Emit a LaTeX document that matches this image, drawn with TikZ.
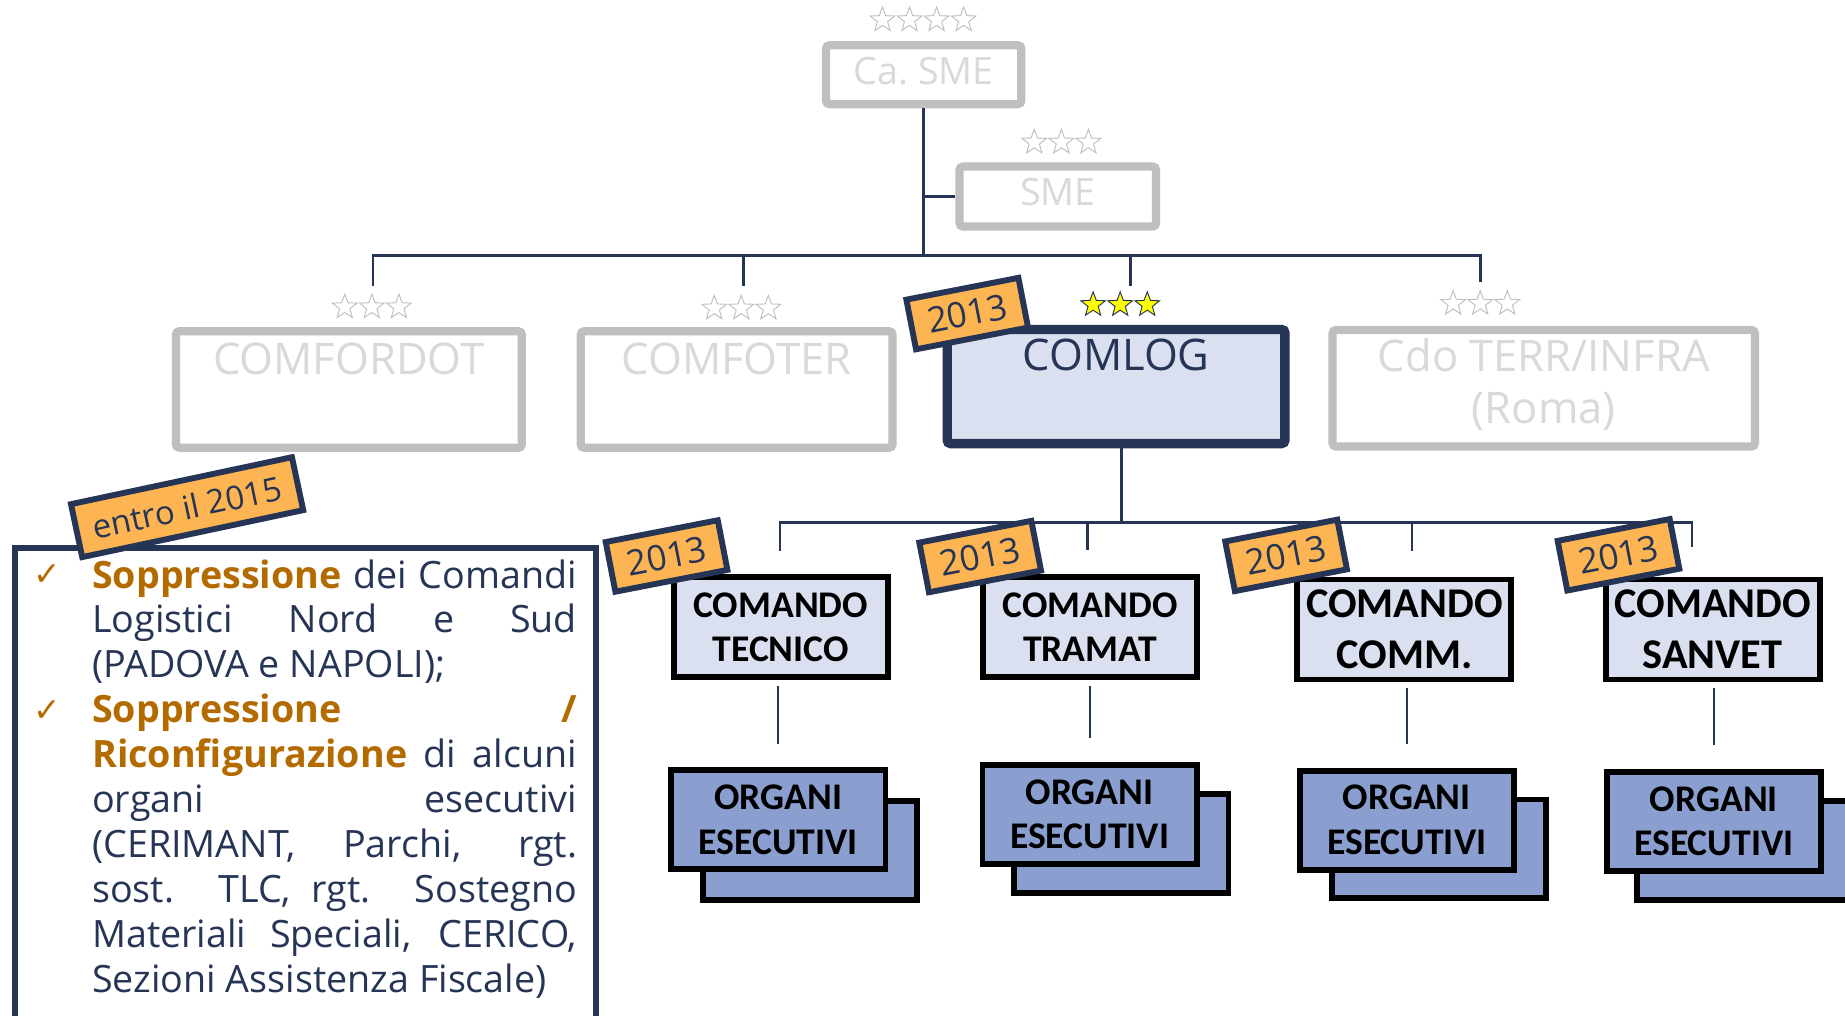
\documentclass[tikz,border=0pt]{standalone}
\usepackage{fontspec}
\setmainfont{Open Sans}
\newfontfamily\boxfont{Carlito}
\newfontfamily\symfont{DejaVu Sans}
\usetikzlibrary{shapes.geometric}
\definecolor{navy}{HTML}{263455}
\definecolor{grayline}{HTML}{BFBFBF}
\definecolor{graytext}{HTML}{D9D9D9}
\definecolor{paleblue}{HTML}{DAE0F0}
\definecolor{midblue}{HTML}{8A9ECF}
\definecolor{tagorange}{HTML}{FDB553}
\definecolor{darkorange}{HTML}{B36B00}
\definecolor{staryellow}{HTML}{FFFF00}

\begin{document}
\begin{tikzpicture}[x=0.5pt,y=-0.5pt,
    oldbox/.style={draw=grayline,line width=3.5pt,rounded corners=1.5pt,fill=white,inner sep=0pt},
    oldtext/.style={text=graytext,anchor=base,inner sep=0pt,font=\fontsize{18.5}{22}\selectfont},
    oldstar/.style={star,star points=5,star point ratio=2.4,minimum size=11pt,inner sep=0pt,draw=grayline,line width=0.4pt,fill=white},
    goldstar/.style={oldstar,draw=navy,fill=staryellow},
    link/.style={draw=navy,line width=1.1pt},
    drop/.style={draw=navy,line width=0.9pt,shorten <=2.5pt,shorten >=10pt},
    cmdbox/.style={draw=black,line width=2.5pt,fill=paleblue,minimum width=91pt,minimum height=42.5pt,inner sep=0pt,align=center,font=\boxfont\bfseries\fontsize{16}{18.5}\selectfont},
    organi/.style={cmdbox,fill=midblue,minimum height=42pt,font=\boxfont\bfseries\fontsize{16}{19}\selectfont},
    tag/.style={draw=navy,line width=2.5pt,fill=tagorange,text=navy,minimum width=48.5pt,minimum height=21.5pt,inner sep=0pt,rotate=11,font=\fontsize{15}{15}\selectfont}]
    \useasboundingbox (0,0) rectangle (1568,863);
    \clip (0,0) rectangle (1568,863);
    \fill[white] (0,0) rectangle (1568,863);

    \node[oldbox,minimum width=83pt,minimum height=25pt] (casme) at (785,63.5) {};
    \node[oldtext,font=\fontsize{16}{19}\selectfont] (casmetxt) at (785,71.5) {Ca.\ SME};
    \node[oldbox,minimum width=83.5pt,minimum height=25.5pt] (sme) at (899,167) {};
    \node[oldtext,font=\fontsize{16}{19}\selectfont] (smetxt) at (899,175) {SME};
    \foreach \i in {1,...,4} \node[oldstar] (casmestar\i) at (727+23*\i,17) {};
    \foreach \i in {1,...,3} \node[oldstar] (smestar\i) at (856+23*\i,121) {};

    \node[oldbox,minimum width=147pt,minimum height=49.5pt] (comfordot) at (296.5,331) {};
    \node[oldtext] (comfordottxt) at (296.5,318) {COMFORDOT};
    \node[oldbox,minimum width=132.5pt,minimum height=49.5pt] (comfoter) at (626,331) {};
    \node[oldtext] (comfotertxt) at (626,318) {COMFOTER};
    \node[oldbox,draw=navy,line width=4pt,fill=paleblue,minimum width=143.5pt,minimum height=48.5pt] (comlog) at (948.5,328.5) {};
    \node[oldtext,text=navy] (comlogtxt) at (948.5,315) {COMLOG};
    \node[oldbox,minimum width=179.5pt,minimum height=49.5pt] (cdo) at (1312,330) {};
    \node[oldtext] (cdotxt) at (1312,316) {Cdo TERR/INFRA};
    \node[oldtext] (romatxt) at (1312,360) {(Roma)};
    \foreach \i in {1,...,3} \node[oldstar] (comfordotstar\i) at (270+23*\i,261) {};
    \foreach \i in {1,...,3} \node[oldstar] (comfoterstar\i) at (584+23*\i,262) {};
    \foreach \i in {1,...,3} \node[goldstar] (comlogstar\i) at (906+23*\i,259) {};
    \foreach \i in {1,...,3} \node[oldstar] (cdostar\i) at (1212+23*\i,258) {};

    \coordinate (hub) at (785,217);
    \coordinate (t1) at (317,243);
    \coordinate (t2) at (632,243);
    \coordinate (t3) at (961,243);
    \coordinate (t4) at (1258,240);
    \draw[link] (casme) -- (hub);
    \draw[link] (sme.west) -- (sme.west -| hub);
    \draw[link] (t1) -- (t1 |- hub) -- (t4 |- hub) -- (t4);
    \draw[link] (t2) -- (t2 |- hub);
    \draw[link] (t3) -- (t3 |- hub);

    \coordinate (hub2) at (953,444);
    \coordinate (u1) at (663,468);
    \coordinate (u2) at (924,467);
    \coordinate (u3) at (1200,468);
    \coordinate (u4) at (1438,465);
    \draw[link] (comlog.south -| hub2) -- (hub2);
    \draw[link] (u1) -- (u1 |- hub2) -- (u4 |- hub2) -- (u4);
    \draw[link] (u2) -- (u2 |- hub2);
    \draw[link] (u3) -- (u3 |- hub2);

    \node[cmdbox] (tecnico) at (663.5,533) {COMANDO\\TECNICO};
    \node[cmdbox] (tramat) at (926.5,533) {COMANDO\\TRAMAT};
    \node[cmdbox,font=\boxfont\bfseries\fontsize{18}{21.5}\selectfont] (comm) at (1193.5,535) {COMANDO\\COMM.};
    \node[cmdbox,font=\boxfont\bfseries\fontsize{18}{21.5}\selectfont] (sanvet) at (1455.5,535) {COMANDO\\SANVET};

    \node[organi] (orgtecback) at (688.5,722.5) {};
    \node[organi] (orgtec) at (661.5,696.5) {ORGANI\\ESECUTIVI};
    \node[organi] (orgtraback) at (953,717) {};
    \node[organi] (orgtra) at (926,692) {ORGANI\\ESECUTIVI};
    \node[organi] (orgcommback) at (1223,721.5) {};
    \node[organi] (orgcomm) at (1195.5,697) {ORGANI\\ESECUTIVI};
    \node[organi] (orgsanback) at (1482.5,723) {};
    \node[organi] (orgsan) at (1456.5,698) {ORGANI\\ESECUTIVI};

    \draw[drop] (tecnico.south -| orgtec) -- (orgtec.north);
    \draw[drop] (tramat.south -| orgtra) -- (orgtra.north);
    \draw[drop] (comm.south -| orgcomm) -- (orgcomm.north);
    \draw[drop] (sanvet.south -| orgsan) -- (orgsan.north);

    \node[tag] (tagcomlog) at (822,266.5) {2013};
    \node[tag] (tagtec) at (566.5,472.5) {2013};
    \node[tag] (tagtra) at (833,473) {2013};
    \node[tag] (tagcomm) at (1093,472) {2013};
    \node[tag] (tagsan) at (1375.5,471.5) {2013};

    \node[draw=navy,line width=2.5pt,fill=white,minimum width=247pt,minimum height=207.25pt,inner sep=0pt] (notebox) at (259.5,672.75) {};
    \node[text=darkorange,font=\symfont\fontsize{14}{14}\selectfont] (check1) at (40,489) {✓};
    \node[text=darkorange,font=\symfont\fontsize{14}{14}\selectfont] (check2) at (40,604) {✓};
    \node[anchor=north west,inner sep=0pt,text width=206pt,align=justify,text=navy,font=\fontsize{16}{19.1}\selectfont] (notetxt) at (78,475) {\tolerance=10000\hyphenpenalty=10000
        \textcolor{darkorange}{\textbf{Soppressione}} dei Comandi\linebreak Logistici Nord e Sud\linebreak (PADOVA e NAPOLI);\par
        \textcolor{darkorange}{\textbf{Soppressione /\linebreak Riconfigurazione}} di alcuni\linebreak organi esecutivi\linebreak (CERIMANT, Parchi, rgt.\linebreak sost. TLC, rgt. Sostegno\linebreak Materiali Speciali, CERICO,\linebreak Sezioni Assistenza Fiscale)};
    \node[tag,rotate=1,minimum width=96pt,minimum height=23pt,font=\fontsize{14}{14}\selectfont] (entro) at (159,431) {entro il 2015};
\end{tikzpicture}
\end{document}
